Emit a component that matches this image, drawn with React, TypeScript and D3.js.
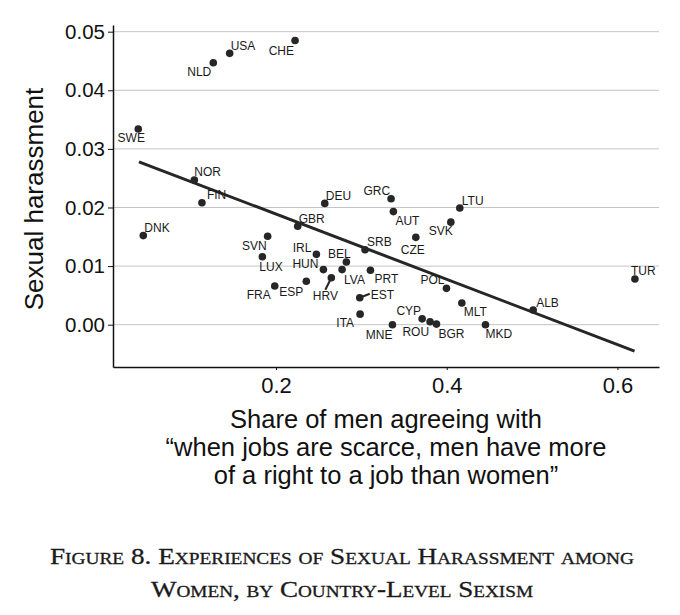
import { useEffect, useRef } from "react"
import * as d3 from "d3"

// country codes and values
const countries = [
  "USA", "CHE", "NLD", "SWE", "NOR", "FIN", "DNK", "DEU", "GRC", "AUT",
  "GBR", "SVN", "SVK", "CZE", "LTU", "SRB", "LUX", "IRL", "BEL", "HUN",
  "LVA", "PRT", "HRV", "ESP", "FRA", "EST", "ITA", "POL", "MLT", "CYP",
  "ROU", "BGR", "MNE", "MKD", "TUR", "ALB",
]
const sexism = [
  0.1457, 0.2223, 0.1265, 0.0386, 0.1043, 0.1132, 0.0445, 0.2571, 0.3348, 0.3375,
  0.2254, 0.1902, 0.4048, 0.3638, 0.4153, 0.3043, 0.184, 0.2473, 0.2824, 0.2555,
  0.2774, 0.3106, 0.2648, 0.2355, 0.1985, 0.2981, 0.2985, 0.3997, 0.4177, 0.3712,
  0.3805, 0.388, 0.3364, 0.4454, 0.6205, 0.5013,
]
const harassment = [
  0.0463, 0.0485, 0.0447, 0.0334, 0.0247, 0.0208, 0.0152, 0.0207, 0.0215, 0.0193,
  0.0168, 0.0151, 0.0175, 0.0149, 0.0199, 0.0128, 0.0116, 0.012, 0.0107, 0.0094,
  0.0094, 0.0093, 0.008, 0.0074, 0.0066, 0.0046, 0.0018, 0.0062, 0.0037, 0.001,
  0.0005, 0.0001, 0.0, 0.0, 0.0078, 0.0025,
]
// fitted line end points
const fitX = [0.0394, 0.62]
const fitY = [0.0278, -0.0045]

const yTicks = [0, 0.01, 0.02, 0.03, 0.04, 0.05]
const xTicks = [0.2, 0.4, 0.6]

const xTitle = [
  "Share of men agreeing with",
  "\u201cwhen jobs are scarce, men have more",
  "of a right to a job than women\u201d",
]
const yTitle = "Sexual harassment"
const caption = [
  "Figure 8. Experiences of Sexual Harassment among",
  "Women, by Country-Level Sexism",
]

// label placement relative to each dot: [dx, dy, anchor]
const labelPos: Record<string, [number, number, string]> = {
  USA: [1, -8, "start"],
  CHE: [-1, 10, "end"],
  NLD: [-2, 9, "end"],
  SWE: [-7, 9, "middle"],
  NOR: [0, -8, "start"],
  FIN: [5, -8, "start"],
  DNK: [1, -8, "start"],
  DEU: [1, -8, "start"],
  GRC: [-1, -8, "end"],
  AUT: [2, 9, "start"],
  GBR: [1, -8, "start"],
  SVN: [-1, 9, "end"],
  SVK: [2, 9, "end"],
  CZE: [-3, 12, "middle"],
  LTU: [2, -7, "start"],
  SRB: [2, -8, "start"],
  LUX: [-3, 10, "start"],
  IRL: [-5, -7, "end"],
  BEL: [-7, -8, "middle"],
  HUN: [-5, -6, "end"],
  LVA: [2, 10, "start"],
  PRT: [4, 8, "start"],
  HRV: [-6, 18, "middle"],
  ESP: [-3, 10, "end"],
  FRA: [-4, 9, "end"],
  EST: [11, -3, "start"],
  ITA: [-6, 9, "end"],
  POL: [-2, -9, "end"],
  MLT: [2, 9, "start"],
  CYP: [-1, -8, "end"],
  ROU: [-1, 10, "end"],
  BGR: [2, 10, "start"],
  MNE: [0, 10, "end"],
  MKD: [0, 9, "start"],
  TUR: [-4, -8, "start"],
  ALB: [3, -7, "start"],
}
// short leader lines from dot toward label
const leaders: Record<string, [number, number]> = {
  HRV: [-6, 12],
  EST: [10, -4],
}

const sans = "'Liberation Sans', Arial, Helvetica, sans-serif"
const serif = "'Liberation Serif', 'Times New Roman', serif"
const ink = "#262626"

export default function App() {
  const svgRef = useRef<SVGSVGElement | null>(null)

  useEffect(() => {
    if (!svgRef.current) return
    const svg = d3.select(svgRef.current)
    svg.selectAll("*").remove()

    const width = 680
    const height = 615
    const left = 113
    const right = 659
    const top = 25
    const bottom = 367

    const x = d3.scaleLinear().domain([0.009, 0.6487]).range([left, right])
    const y = d3.scaleLinear().domain([-0.00722, 0.05114]).range([bottom, top])

    svg.attr("width", width).attr("height", height).attr("viewBox", [0, 0, width, height])
    svg.append("rect").attr("width", width).attr("height", height).attr("fill", "#fff")

    // grid
    svg
      .append("g")
      .selectAll("line")
      .data(yTicks)
      .join("line")
      .attr("x1", left)
      .attr("x2", right)
      .attr("y1", (d) => y(d))
      .attr("y2", (d) => y(d))
      .attr("stroke", "#c4c4c4")
      .attr("stroke-width", 1)

    // y axis
    const yAxis = svg
      .append("g")
      .attr("transform", `translate(${left},0)`)
      .call(d3.axisLeft(y).tickValues(yTicks).tickFormat(d3.format(".2f")).tickSize(5).tickSizeOuter(0).tickPadding(3))
    yAxis.select(".domain").attr("stroke", "#111").attr("stroke-width", 1.5)
    yAxis.selectAll(".tick line").attr("stroke", "#111")
    yAxis.selectAll("text").attr("font-family", sans).attr("font-size", 20.5).attr("fill", "#111")

    // x axis
    const xAxis = svg
      .append("g")
      .attr("transform", `translate(0,${bottom})`)
      .call(d3.axisBottom(x).tickValues(xTicks).tickFormat(d3.format(".1f")).tickSize(3).tickSizeOuter(0).tickPadding(7))
    xAxis.select(".domain").attr("stroke", "#111").attr("stroke-width", 1.5)
    xAxis.selectAll(".tick line").attr("stroke", "#111")
    xAxis.selectAll("text").attr("font-family", sans).attr("font-size", 22).attr("fill", "#111")

    const data = countries.map((c, i) => ({ c, x: sexism[i], y: harassment[i] }))

    // fitted line
    const line = d3
      .line<number>()
      .x((d) => x(d))
      .y((_, i) => y(fitY[i]))
    svg
      .append("path")
      .attr("d", line(fitX))
      .attr("fill", "none")
      .attr("stroke", ink)
      .attr("stroke-width", 3)

    // leaders
    svg
      .append("g")
      .selectAll("line")
      .data(data.filter((d) => leaders[d.c]))
      .join("line")
      .attr("x1", (d) => x(d.x))
      .attr("y1", (d) => y(d.y))
      .attr("x2", (d) => x(d.x) + leaders[d.c][0])
      .attr("y2", (d) => y(d.y) + leaders[d.c][1])
      .attr("stroke", ink)
      .attr("stroke-width", 2)

    // dots
    svg
      .append("g")
      .selectAll("circle")
      .data(data)
      .join("circle")
      .attr("cx", (d) => x(d.x))
      .attr("cy", (d) => y(d.y))
      .attr("r", 3.8)
      .attr("fill", ink)

    // labels
    svg
      .append("g")
      .selectAll("text")
      .data(data)
      .join("text")
      .attr("x", (d) => x(d.x) + labelPos[d.c][0])
      .attr("y", (d) => y(d.y) + labelPos[d.c][1])
      .attr("dy", "0.36em")
      .attr("text-anchor", (d) => labelPos[d.c][2])
      .attr("font-family", sans)
      .attr("font-size", 12)
      .attr("fill", "#1a1a1a")
      .text((d) => d.c)

    // axis titles
    svg
      .append("text")
      .attr("transform", `translate(43,${(top + bottom) / 2 + 3}) rotate(-90)`)
      .attr("text-anchor", "middle")
      .attr("font-family", sans)
      .attr("font-size", 26)
      .attr("fill", "#111")
      .text(yTitle)

    svg
      .append("g")
      .selectAll("text")
      .data(xTitle)
      .join("text")
      .attr("x", (left + right) / 2)
      .attr("y", (_, i) => 428 + i * 28)
      .attr("text-anchor", "middle")
      .attr("font-family", sans)
      .attr("font-size", 25.5)
      .attr("fill", "#111")
      .text((d) => d)

    // caption
    const captionWidths = [584, 382]
    svg
      .append("g")
      .selectAll("text")
      .data(caption)
      .join("text")
      .attr("x", 342)
      .attr("y", (_, i) => 564 + i * 33)
      .attr("text-anchor", "middle")
      .attr("font-family", serif)
      .attr("font-size", 22.5)
      .attr("font-variant", "small-caps")
      .attr("textLength", (_, i) => captionWidths[i])
      .attr("lengthAdjust", "spacingAndGlyphs")
      .attr("fill", "#1a1a1a")
      .attr("stroke", "#1a1a1a")
      .attr("stroke-width", 0.3)
      .text((d) => d)
  }, [])

  return (
    <div style={{ position: "absolute", left: 0, top: 0 }}>
      <svg ref={svgRef} style={{ display: "block" }}></svg>
    </div>
  )
}
